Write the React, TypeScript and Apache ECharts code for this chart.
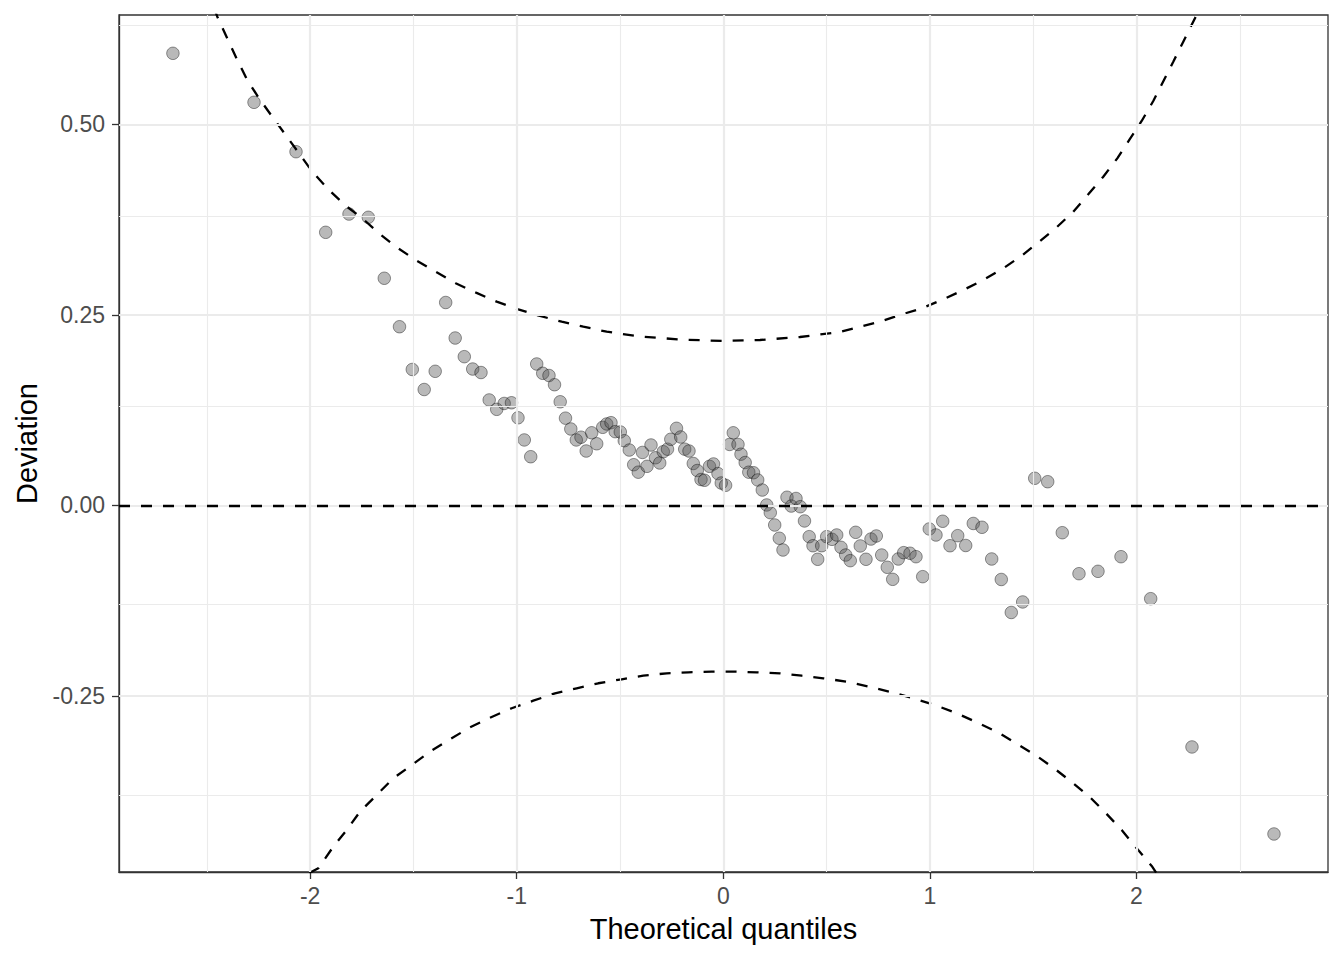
import React, { useEffect, useRef } from "react";
import * as echarts from "echarts";

// Theoretical quantiles (x) and deviations (y) of the worm plot points
const qx = [
  -2.664, -2.2715, -2.0682, -1.9245, -1.8117, -1.7183, -1.6409, -1.5673, -1.5053, -1.4477,
  -1.3945, -1.3437, -1.2977, -1.2536, -1.213, -1.1728, -1.1331, -1.0968, -1.0605, -1.0252,
  -0.9937, -0.9632, -0.9322, -0.9032, -0.8741, -0.8437, -0.817, -0.7894, -0.7638, -0.7381,
  -0.7115, -0.6888, -0.6636, -0.637, -0.6128, -0.5837, -0.5644, -0.5436, -0.5232, -0.4985,
  -0.4792, -0.455, -0.4337, -0.4114, -0.3911, -0.3693, -0.3499, -0.3282, -0.3078, -0.2904,
  -0.2701, -0.2541, -0.2265, -0.2062, -0.1868, -0.166, -0.1452, -0.1258, -0.1079, -0.091,
  -0.0668, -0.0474, -0.0257, -0.0097, 0.0111, 0.0305, 0.0484, 0.0712, 0.0857, 0.106,
  0.1234, 0.1462, 0.1665, 0.1888, 0.2101, 0.2275, 0.2488, 0.2711, 0.289, 0.3083,
  0.3291, 0.3519, 0.3727, 0.393, 0.4158, 0.4342, 0.4569, 0.4763, 0.5005, 0.5261,
  0.5489, 0.5697, 0.5924, 0.6147, 0.6409, 0.6631, 0.6907, 0.7149, 0.7406, 0.7667,
  0.7938, 0.8199, 0.847, 0.8732, 0.9037, 0.9327, 0.9652, 0.9971, 1.0295, 1.062,
  1.0973, 1.1346, 1.1733, 1.2101, 1.2522, 1.2991, 1.3456, 1.394, 1.4492, 1.5073,
  1.5702, 1.6409, 1.7217, 1.8136, 1.925, 2.0687, 2.2686, 2.6655,
];
const dev = [
  0.5934, 0.5291, 0.4643, 0.3585, 0.3825, 0.3782, 0.2982, 0.2346, 0.1785, 0.1522,
  0.1761, 0.2664, 0.2198, 0.1953, 0.1791, 0.1745, 0.1385, 0.1262, 0.1339, 0.1348,
  0.1151, 0.086, 0.064, 0.1857, 0.1735, 0.1706, 0.1585, 0.1361, 0.1146, 0.1004,
  0.086, 0.0896, 0.0715, 0.0954, 0.081, 0.1026, 0.107, 0.1087, 0.0969, 0.0965,
  0.085, 0.0728, 0.0535, 0.0437, 0.0696, 0.0514, 0.0794, 0.0626, 0.0558, 0.0706,
  0.0739, 0.0869, 0.1013, 0.0899, 0.0739, 0.0715, 0.0551, 0.0459, 0.0341, 0.0331,
  0.0514, 0.0545, 0.0419, 0.0295, 0.0265, 0.0801, 0.0954, 0.0801, 0.0673, 0.0564,
  0.0437, 0.043, 0.0335, 0.0203, 0.0007, -0.0094, -0.0256, -0.043, -0.0584, 0.0108,
  -0.0007, 0.0092, -0.0016, -0.0203, -0.0409, -0.0528, -0.0706, -0.0528, -0.0409, -0.0444,
  -0.0387, -0.0549, -0.065, -0.0724, -0.0352, -0.0531, -0.0706, -0.044, -0.04, -0.065,
  -0.0811, -0.0969, -0.0702, -0.0619, -0.0627, -0.0672, -0.0934, -0.0308, -0.0387, -0.0207,
  -0.0528, -0.0396, -0.0525, -0.0236, -0.0286, -0.0702, -0.0971, -0.1404, -0.1266, 0.0357,
  0.0312, -0.0357, -0.0895, -0.0864, -0.0672, -0.1223, -0.3169, -0.4311,
];

// Upper confidence band
const upperX = [
  -2.465, -2.4492, -2.4085, -2.3524, -2.304, -2.2473, -2.183, -2.1181, -2.0537, -1.9893,
  -1.9085, -1.8277, -1.7473, -1.6665, -1.5857, -1.4889, -1.3921, -1.2953, -1.197, -1.0968,
  -0.9923, -0.8872, -0.7822, -0.6776, -0.5644, -0.4032, -0.2096, -0.0015, 0.1776, 0.3712,
  0.5648, 0.7585, 0.8553, 0.9603, 1.0571, 1.1617, 1.2585, 1.3553, 1.4443, 1.5295,
  1.6138, 1.6941, 1.7667, 1.8393, 1.9071, 1.9652, 2.0252, 2.0813, 2.1331, 2.1781,
  2.2265, 2.2831, 2.3025,
];
const upperY = [
  0.6529, 0.6415, 0.6175, 0.5846, 0.5584, 0.5344, 0.5102, 0.4862, 0.4622, 0.4381,
  0.414, 0.3934, 0.3769, 0.3572, 0.3396, 0.3222, 0.3068, 0.2916, 0.2793, 0.2675,
  0.2575, 0.2487, 0.2412, 0.2346, 0.2281, 0.2218, 0.2178, 0.2159, 0.2172, 0.2211,
  0.2277, 0.2412, 0.25, 0.2588, 0.2697, 0.2828, 0.2959, 0.3113, 0.3278, 0.3462,
  0.3651, 0.3856, 0.4084, 0.4315, 0.4556, 0.4797, 0.5046, 0.5308, 0.5584, 0.5824,
  0.6087, 0.6394, 0.6516,
];
// Lower confidence band
const lowerX = [
  -2.0039, -1.9603, -1.8877, -1.8228, -1.7585, -1.6776, -1.5973, -1.5082, -1.4196, -1.3228,
  -1.226, -1.1292, -1.0242, -0.9197, -0.8146, -0.7096, -0.605, -0.4918, -0.3872, -0.274,
  -0.1694, -0.0561, 0.0566, 0.1617, 0.2744, 0.3795, 0.484, 0.5973, 0.7067, 0.8151,
  0.9197, 1.0247, 1.1297, 1.2265, 1.3282, 1.425, 1.5169, 1.6055, 1.6941, 1.7749,
  1.8524, 1.9284, 2.001, 2.0736, 2.0992,
];
const lowerY = [
  -0.4823, -0.4761, -0.4478, -0.4259, -0.4018, -0.3799, -0.358, -0.3406, -0.3231, -0.3068,
  -0.2911, -0.2785, -0.2661, -0.2562, -0.2465, -0.2399, -0.2333, -0.2281, -0.2234, -0.2202,
  -0.2189, -0.2181, -0.2181, -0.2189, -0.2202, -0.2234, -0.2268, -0.2312, -0.2378, -0.2451,
  -0.253, -0.2618, -0.2727, -0.2845, -0.2976, -0.3134, -0.3287, -0.3458, -0.3646, -0.3829,
  -0.4039, -0.4259, -0.4499, -0.4731, -0.4836,
];

// Axis ticks
const xTicks = [-2, -1, 0, 1, 2];
const xMinor = [-2.5, -1.5, -0.5, 0.5, 1.5, 2.5];
const yTicks = [-0.25, 0, 0.25, 0.5];
const yMinor = [-0.375, -0.125, 0.125, 0.375, 0.625];
const xRange = [-2.925, 2.927];
const yRange = [-0.481, 0.6437];

const FONT = "'Liberation Sans', Arial, Helvetica, sans-serif";

export default function App() {
  const ref = useRef<HTMLDivElement>(null);

  useEffect(() => {
    if (!ref.current) return;
    const chart = echarts.init(ref.current, null, { renderer: "svg" });

    const gridColor = "#EBEBEB";
    const gridLines: any[] = [
      ...xMinor.map((v) => ({ xAxis: v, lineStyle: { color: gridColor, width: 1.1, type: "solid" } })),
      ...yMinor.map((v) => ({ yAxis: v, lineStyle: { color: gridColor, width: 1.1, type: "solid" } })),
      ...xTicks.map((v) => ({ xAxis: v, lineStyle: { color: gridColor, width: 2.2, type: "solid" } })),
      ...yTicks.map((v) => ({ yAxis: v, lineStyle: { color: gridColor, width: 2.2, type: "solid" } })),
    ];

    const dashed = { color: "#000000", width: 2.3, type: [11, 11] as any };

    const option: any = {
      animation: false,
      backgroundColor: "#ffffff",
      textStyle: { fontFamily: FONT },
      grid: {
        left: 119,
        right: 16,
        top: 15,
        bottom: 88,
        show: true,
        borderColor: "#333333",
        borderWidth: 1.3,
        backgroundColor: "#ffffff",
        containLabel: false,
      },
      xAxis: {
        type: "value",
        min: xRange[0],
        max: xRange[1],
        name: "Theoretical quantiles",
        nameLocation: "middle",
        nameGap: 42,
        nameTextStyle: { fontSize: 29, color: "#000000", fontFamily: FONT },
        axisLine: { show: true, onZero: false, lineStyle: { color: "#333333", width: 1.3 } },
        axisTick: { show: true, length: 7, lineStyle: { color: "#333333", width: 1.3 }, customValues: xTicks },
        axisLabel: {
          color: "#4D4D4D",
          fontSize: 23,
          margin: 12,
          fontFamily: FONT,
          customValues: xTicks,
          formatter: (v: number) => String(v),
        },
        splitLine: { show: false },
      },
      yAxis: {
        type: "value",
        min: yRange[0],
        max: yRange[1],
        name: "Deviation",
        nameLocation: "middle",
        nameGap: 78,
        nameRotate: 90,
        nameTextStyle: { fontSize: 29, color: "#000000", fontFamily: FONT },
        axisLine: { show: true, onZero: false, lineStyle: { color: "#333333", width: 1.3 } },
        axisTick: { show: true, length: 7, lineStyle: { color: "#333333", width: 1.3 }, customValues: yTicks },
        axisLabel: {
          color: "#4D4D4D",
          fontSize: 23,
          margin: 14,
          fontFamily: FONT,
          customValues: yTicks,
          formatter: (v: number) => v.toFixed(2),
        },
        splitLine: { show: false },
      },
      series: [
        {
          type: "line",
          data: [],
          z: 1,
          silent: true,
          markLine: {
            silent: true,
            symbol: ["none", "none"],
            label: { show: false },
            data: gridLines,
          },
        },
        {
          type: "scatter",
          z: 3,
          symbol: "circle",
          symbolSize: 12.5,
          data: qx.map((x, i) => [x, dev[i]]),
          itemStyle: {
            color: "rgba(80,80,80,0.5)",
            borderColor: "rgba(0,0,0,0.5)",
            borderWidth: 1,
          },
        },
        {
          type: "line",
          z: 4,
          data: upperX.map((x, i) => [x, upperY[i]]),
          showSymbol: false,
          symbol: "none",
          clip: true,
          lineStyle: dashed,
        },
        {
          type: "line",
          z: 4,
          data: lowerX.map((x, i) => [x, lowerY[i]]),
          showSymbol: false,
          symbol: "none",
          clip: true,
          lineStyle: dashed,
        },
        {
          type: "line",
          data: [],
          z: 4,
          silent: true,
          markLine: {
            silent: true,
            symbol: ["none", "none"],
            label: { show: false },
            data: [{ yAxis: 0, lineStyle: dashed }],
          },
        },
      ],
    };

    chart.setOption(option);
    return () => chart.dispose();
  }, []);

  return (
    <div
      ref={ref}
      style={{ position: "absolute", left: 0, top: 0, width: 1344, height: 960 }}
    />
  );
}
